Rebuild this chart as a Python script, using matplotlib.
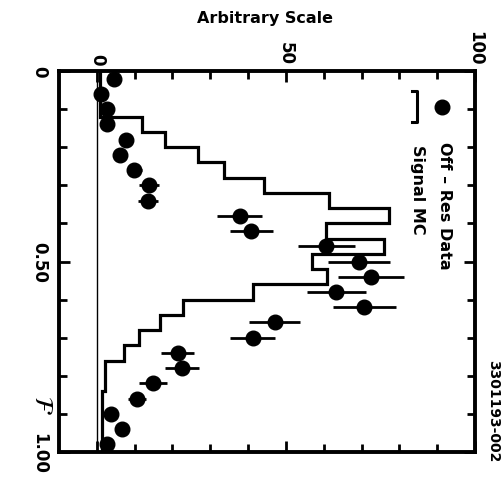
import matplotlib
matplotlib.use('Agg')
import matplotlib.pyplot as plt
import numpy as np

# bin centres along F (shared by the data points and the MC histogram)
f_bins = [0.02, 0.06, 0.10, 0.14, 0.18, 0.22, 0.26, 0.30, 0.34, 0.38,
          0.42, 0.46, 0.50, 0.54, 0.58, 0.62, 0.66, 0.70, 0.74, 0.78,
          0.82, 0.86, 0.90, 0.94, 0.98]

# off-resonance data (arbitrary scale) and errors
data_val = [4.6, 1.2, 2.8, 2.8, 7.8, 6.2, 9.9, 13.8, 13.6, 37.8,
            40.9, 60.7, 69.3, 72.5, 63.3, 70.7, 47.0, 41.2, 21.4, 22.5,
            14.9, 10.7, 3.8, 6.7, 2.8]
data_err = [0.8, 0.8, 0.8, 0.8, 1.6, 1.6, 2.0, 2.6, 2.6, 6.0,
            5.8, 7.6, 8.3, 8.6, 7.8, 8.3, 6.8, 6.0, 4.3, 4.6,
            3.7, 2.4, 0.8, 1.0, 0.8]

# signal MC histogram
mc_val = [0.9, 0.9, 0.9, 12.0, 18.0, 26.7, 33.6, 44.3, 61.4, 77.2,
          60.7, 75.9, 57.0, 60.9, 41.4, 22.8, 16.7, 11.2, 7.2, 2.2,
          2.2, 1.4, 1.4, 1.4, 1.4]

W, H = 504, 485


def px(x, y):
    # pixel position -> figure fraction
    return x / float(W), 1 - y / float(H)


fig = plt.figure(figsize=(5.04, 4.85), dpi=100)
ax = fig.add_axes([59 / W, 1 - 453 / H, 416 / W, 381 / H])

centres = np.array(f_bins)
edges = np.append(centres - 0.02, centres[-1] + 0.02)

# zero line
ax.axvline(0, color='k', lw=1.0, zorder=1)

ax.stairs(mc_val, edges, orientation='horizontal', baseline=None,
          color='k', lw=2.3, zorder=2)

ax.errorbar(data_val, f_bins, xerr=data_err, fmt='o', color='k',
            markersize=10.5, elinewidth=2.0, capsize=0, zorder=3)

ax.set_xlim(-10, 100)
ax.set_ylim(1, 0)

for side in ax.spines.values():
    side.set_linewidth(2.8)

ax.xaxis.set_ticks_position('both')
ax.yaxis.set_ticks_position('both')
ax.set_xticks([0, 50, 100])
ax.set_xticks([10, 20, 30, 40, 60, 70, 80, 90], minor=True)
ax.set_yticks([0, 0.5, 1.0])
ax.set_yticks([0.1, 0.2, 0.3, 0.4, 0.6, 0.7, 0.8, 0.9], minor=True)
ax.tick_params(which='both', direction='in', width=2.0, colors='k')
ax.tick_params(which='major', length=8)
ax.tick_params(which='minor', length=5.5)
ax.tick_params(axis='x', labeltop=True, labelbottom=False, pad=5)
ax.tick_params(axis='y', labelleft=True, labelright=False, pad=8)
ax.set_xticklabels(['0', '50', '100'], rotation=-90, fontsize=12,
                   fontweight='bold')
ax.set_yticklabels(['0', '0.50', '1.00'], rotation=-90, fontsize=12,
                   fontweight='bold', va='center')

fig.text(*px(265, 18), 'Arbitrary Scale', fontsize=11.5, fontweight='bold',
         ha='center', va='center')
fig.text(*px(42, 405), r'$\mathcal{F}$', fontsize=18, rotation=-90,
         ha='center', va='center')

# legend, drawn by hand in the rotated frame
ax.plot([px(442, 108)[0]], [px(442, 108)[1]], 'o', color='k',
        markersize=10.5, transform=fig.transFigure, clip_on=False)
bx = [px(412, 92), px(417, 92), px(417, 123), px(412, 123)]
ax.plot([p[0] for p in bx], [p[1] for p in bx], color='k', lw=2.2,
        transform=fig.transFigure, clip_on=False)
fig.text(*px(444, 206), 'Off \u2013 Res Data', fontsize=11.5,
         fontweight='bold', rotation=-90, ha='center', va='center')
fig.text(*px(418, 190), 'Signal MC', fontsize=11.5, fontweight='bold',
         rotation=-90, ha='center', va='center')
fig.text(*px(493, 411), '3301193-002', fontsize=10, fontweight='bold',
         rotation=-90, ha='center', va='center')

fig.savefig('out.png', dpi=100)
